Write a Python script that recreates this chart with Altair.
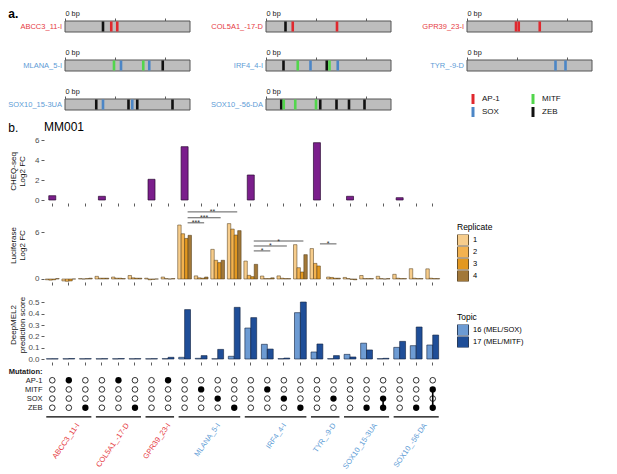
import altair as alt
import pandas as pd

FONT = "Liberation Sans"
RED = "#E63B3F"
BLUE = "#5D9CD6"

# ---------------- panel a : constructs and motif sites ----------------
constructs = ["ABCC3_11-I", "COL5A1_-17-D", "GPR39_23-I", "MLANA_5-I", "IRF4_4-I",
              "TYR_-9-D", "SOX10_15-3UA", "SOX10_-56-DA"]
construct_class = ["AP-1", "AP-1", "AP-1", "MEL", "MEL", "MEL", "MEL", "MEL"]

abcc3_pos = [152, 185, 209]
abcc3_motif = ["ZEB", "AP-1", "AP-1"]
col5a1_pos = [78, 107, 284]
col5a1_motif = ["ZEB", "AP-1", "AP-1"]
gpr39_pos = [196, 207, 291]
gpr39_motif = ["AP-1", "AP-1", "AP-1"]
mlana_pos = [196, 224, 313, 337, 391]
mlana_motif = ["MITF", "SOX", "MITF", "SOX", "ZEB"]
irf4_pos = [70, 127, 178, 243, 254, 287]
irf4_motif = ["ZEB", "MITF", "SOX", "ZEB", "MITF", "SOX"]
tyr_pos = [354, 394]
tyr_motif = ["SOX", "SOX"]
sox10a_pos = [125, 152, 254, 269, 289, 430]
sox10a_motif = ["ZEB", "SOX", "ZEB", "SOX", "ZEB", "ZEB"]
sox10b_pos = [61, 71, 117, 200, 217, 282, 332, 394]
sox10b_motif = ["ZEB", "MITF", "MITF", "MITF", "ZEB", "ZEB", "ZEB", "ZEB"]

motif_names = ["AP-1", "SOX", "MITF", "ZEB"]
motif_colors = ["#E0282E", "#4C86C6", "#52D64C", "#111111"]

# ---------------- panel b : 24 tested sequences ----------------
col_construct = (["ABCC3_11-I"] * 3 + ["COL5A1_-17-D"] * 3 + ["GPR39_23-I"] * 2 +
                 ["MLANA_5-I"] * 4 + ["IRF4_4-I"] * 4 + ["TYR_-9-D"] * 2 +
                 ["SOX10_15-3UA"] * 3 + ["SOX10_-56-DA"] * 3)
col_mutation = ["none", "AP-1", "ZEB", "none", "AP-1", "ZEB", "none", "AP-1",
                "none", "MITF", "SOX", "ZEB", "none", "MITF", "SOX", "ZEB",
                "none", "SOX", "none", "ZEB", "SOX+ZEB", "none", "ZEB", "MITF+ZEB"]

cheq_values = [0.43, None, None, 0.37, None, None, 2.07, None, 5.33, None, None, None,
               2.5, None, None, None, 5.73, None, 0.37, None, None, 0.23, None, None]

luc_rep1 = [-0.1, -0.25, 0.05, 0.34, 0.25, 0.45, 0.1, 0.25, 6.92, 0.4, 3.8, 7.1,
            2.3, 0.38, 0.4, 4.4, 3.9, 0.25, 0.2, 0.45, 0.35, 0.6, 1.32, 1.3]
luc_rep2 = [-0.15, -0.3, 0.0, 0.1, 0.1, 0.15, -0.1, 0.05, 5.8, 0.15, 2.4, 6.4,
            0.47, 0.05, 0.1, 1.45, 2.0, 0.2, 0.05, 0.05, 0.05, 0.1, 0.1, 0.1]
luc_rep3 = [-0.1, -0.25, 0.05, 0.1, 0.1, 0.1, -0.05, 0.0, 5.2, 0.1, 2.1, 5.64,
            0.3, 0.05, 0.05, 0.9, 1.67, 0.1, -0.05, 0.05, 0.0, 0.05, 0.05, 0.05]
luc_rep4 = [0.05, 0.0, 0.1, 0.1, 0.05, 0.1, 0.0, 0.05, 5.6, 0.25, 2.4, 6.2,
            1.88, 0.15, 0.05, 3.12, None, 0.1, -0.1, 0.05, 0.05, 0.05, 0.05, 0.05]
replicates = ["1", "2", "3", "4"]
rep_colors = ["#F7CD8C", "#F3B24F", "#E39820", "#A27838"]

sig_from = [9, 9, 9, 13, 13, 13, 17]
sig_to = [10, 11, 12, 14, 15, 16, 18]
sig_y = [7.2, 7.85, 8.6, 3.6, 4.23, 4.87, 4.5]
sig_label = ["***", "***", "**", "*", "*", "*", "*"]

deep_topic16 = [0.002, 0.002, 0.002, 0.002, 0.002, 0.002, 0.002, 0.003,
                0.015, 0.006, 0.002, 0.024, 0.274, 0.13, 0.003, 0.41,
                0.062, 0.003, 0.041, 0.14, 0.003, 0.103, 0.118, 0.124]
deep_topic17 = [0.002, 0.004, 0.003, 0.003, 0.004, 0.003, 0.003, 0.015,
                0.437, 0.03, 0.085, 0.457, 0.366, 0.088, 0.008, 0.504,
                0.133, 0.03, 0.018, 0.08, 0.006, 0.156, 0.283, 0.212]
topics = ["16 (MEL/SOX)", "17 (MEL/MITF)"]
topic_colors = ["#6D9BD3", "#1F4E98"]

# ---------------- panel a charts ----------------
class_color = {"AP-1": RED, "MEL": BLUE}
site_lists = [(abcc3_pos, abcc3_motif), (col5a1_pos, col5a1_motif), (gpr39_pos, gpr39_motif),
              (mlana_pos, mlana_motif), (irf4_pos, irf4_motif), (tyr_pos, tyr_motif),
              (sox10a_pos, sox10a_motif), (sox10b_pos, sox10b_motif)]
motif_scale = alt.Scale(domain=motif_names, range=motif_colors)
BAR_W = 125                 # pixels for the 500 bp sequence
LABEL_ROOM = [21, 62, 62]   # pixels left of 0 bp inside each grid column


def construct_chart(name, cls, pos, mot, room):
    bar_df = pd.DataFrame({"construct": [name], "start": [0], "end": [500]})
    site_df = pd.DataFrame({"construct": [name] * len(pos), "pos": pos, "motif": mot})
    lo = -room * 500.0 / BAR_W
    y_enc = alt.Y("construct:N", scale=alt.Scale(paddingInner=0, paddingOuter=0), axis=None)
    x_axis = alt.Axis(orient="top", values=[0, 100, 200, 300, 400, 500],
                      labelExpr="datum.value == 0 ? '0 bp' : (datum.value == 500 ? '500 bp' : '')",
                      labelAlign="left", labelFlush=False, labelOverlap=False, labelFontSize=7.3,
                      labelColor="#222222", labelPadding=1, tickSize=3, tickColor="#333333",
                      tickWidth=0.8, domain=False, grid=False, title=None)
    bar = alt.Chart(bar_df).mark_bar(color="#BDBDBD", stroke="#555555", strokeWidth=1).encode(
        x=alt.X("start:Q", scale=alt.Scale(domain=[lo, 500], nice=False, zero=False), axis=x_axis),
        x2="end:Q", y=y_enc)
    sites = alt.Chart(site_df).mark_tick(thickness=2.6, size=10, opacity=1).encode(
        x="pos:Q", y="construct:N",
        color=alt.Color("motif:N", scale=motif_scale, legend=None))
    label = alt.Chart(bar_df).mark_text(align="right", baseline="middle", dx=-3, fontSize=7.5,
                                        color=class_color[cls]).encode(
        x="start:Q", y="construct:N", text="construct:N")
    return alt.layer(bar, sites, label).properties(width=BAR_W + room, height=11)


a_charts = [construct_chart(n, c, p, m, LABEL_ROOM[k % 3])
            for k, (n, c, (p, m)) in enumerate(zip(constructs, construct_class, site_lists))]

legend_df = pd.DataFrame({"motif": motif_names})
motif_legend = alt.Chart(legend_df).mark_square(opacity=0).encode(
    color=alt.Color("motif:N", scale=motif_scale,
                    legend=alt.Legend(title=None, orient="none", legendX=LABEL_ROOM[2] + 1, legendY=-5,
                                      columns=2, columnPadding=28, rowPadding=3,
                                      symbolType="M-0.3,-1L0.3,-1L0.3,1L-0.3,1Z", symbolSize=100,
                                      symbolOpacity=1, symbolStrokeWidth=0, labelFontSize=8,
                                      labelColor="#111111"))
).properties(width=BAR_W + LABEL_ROOM[2], height=11)

panel_a = alt.concat(
    *a_charts, motif_legend, columns=3, spacing={"row": 15, "column": 13},
    title=alt.TitleParams("a.", anchor="start", fontSize=12, fontWeight="bold", offset=-12)
).resolve_scale(x="independent", y="independent", color="independent")

# ---------------- panel b charts ----------------
cids = [f"c{i + 1:02d}" for i in range(24)]
PW = 397
x_band = alt.X("cid:N", scale=alt.Scale(domain=cids, paddingInner=0, paddingOuter=0),
               axis=alt.Axis(title=None, labels=False, domain=False, tickSize=3, tickColor="#333333",
                             tickWidth=0.8, grid=False))
q_scale = alt.Scale(domain=[0.5, 24.5], nice=False, zero=False)


def y_axis(title, values, fmt):
    return alt.Axis(title=title, values=values, format=fmt, grid=False, domain=False, tickSize=3,
                    tickColor="#333333", tickWidth=0.8, labelFontSize=8, labelColor="#4D4D4D",
                    labelPadding=2, minExtent=16, maxExtent=16, titleFontSize=8,
                    titleFontWeight="normal", titlePadding=2, titleColor="#111111", titleLineHeight=9)


cheq_df = pd.DataFrame({"cid": cids, "val": cheq_values})
cheq = alt.Chart(cheq_df).mark_bar(color="#7B1E8C", stroke="#2A0A30", strokeWidth=0.7, width=7).encode(
    x=x_band,
    y=alt.Y("val:Q", scale=alt.Scale(domain=[-0.3, 6.1], nice=False, zero=False),
            axis=y_axis(["CHEQ-seq", "Log2 FC"], [0, 2, 4, 6], "d")),
    y2=alt.datum(0)
).properties(width=PW, height=64,
             title=alt.TitleParams("MM001", anchor="start", frame="group", fontSize=12,
                                   fontWeight="normal", offset=2))

luc_rows = []
for i, cid in enumerate(cids):
    for r, vals in zip(replicates, [luc_rep1, luc_rep2, luc_rep3, luc_rep4]):
        luc_rows.append({"cid": cid, "rep": r, "val": vals[i]})
luc_df = pd.DataFrame(luc_rows)
luc_y = alt.Y("val:Q", scale=alt.Scale(domain=[-0.385, 9.1], nice=False, zero=False),
              axis=y_axis(["Luciferase", "Log2 FC"], [0, 2, 4, 6], "d"))
luc_bars = alt.Chart(luc_df).mark_bar(stroke="#4A3412", strokeWidth=0.5).encode(
    x=x_band,
    xOffset=alt.XOffset("rep:N", scale=alt.Scale(domain=replicates, paddingOuter=0.4, paddingInner=0)),
    y=luc_y, y2=alt.datum(0),
    color=alt.Color("rep:N", scale=alt.Scale(domain=replicates, range=rep_colors),
                    legend=alt.Legend(title="Replicate", orient="none", legendX=413, legendY=15,
                                      symbolType="square", symbolSize=121, symbolStrokeColor="#4A3412",
                                      symbolStrokeWidth=0.8, rowPadding=1, clipHeight=11,
                                      labelFontSize=7.5, titleFontSize=8.5, titleFontWeight="normal",
                                      titlePadding=3)))
sig_df = pd.DataFrame({"x1": sig_from, "x2": sig_to, "y": sig_y, "lab": sig_label})
sig_rules = alt.Chart(sig_df).mark_rule(color="#333333", strokeWidth=0.8, xOffset=3, x2Offset=3).encode(
    x=alt.X("x1:Q", scale=q_scale, axis=None), x2="x2:Q", y="y:Q")
sig_text = alt.Chart(sig_df).transform_calculate(xm="(datum.x1 + datum.x2) / 2").mark_text(
    fontSize=7, baseline="alphabetic", dy=2.5, xOffset=3, color="#333333").encode(
    x=alt.X("xm:Q", scale=q_scale, axis=None), y="y:Q", text="lab:N")
luc = alt.layer(luc_bars, sig_rules, sig_text).resolve_scale(x="independent").properties(width=PW, height=74)

deep_rows = []
for i, cid in enumerate(cids):
    for t, vals in zip(topics, [deep_topic16, deep_topic17]):
        deep_rows.append({"cid": cid, "topic": t, "val": vals[i]})
deep_df = pd.DataFrame(deep_rows)
deep = alt.Chart(deep_df).mark_bar(stroke="#0D1F3C", strokeWidth=0.6).encode(
    x=x_band,
    xOffset=alt.XOffset("topic:N", scale=alt.Scale(domain=topics, paddingOuter=0.4, paddingInner=0)),
    y=alt.Y("val:Q", scale=alt.Scale(domain=[-0.0265, 0.637], nice=False, zero=False),
            axis=y_axis(["DeepMEL2", "prediction score"], [0, 0.1, 0.2, 0.3, 0.4, 0.5], ".1f")),
    y2=alt.datum(0),
    color=alt.Color("topic:N", scale=alt.Scale(domain=topics, range=topic_colors),
                    legend=alt.Legend(title="Topic", orient="none", legendX=413, legendY=26,
                                      symbolType="square", symbolSize=121, symbolStrokeColor="#0D1F3C",
                                      symbolStrokeWidth=0.8, rowPadding=1, clipHeight=11,
                                      labelFontSize=7.5, titleFontSize=8.5, titleFontWeight="normal",
                                      titlePadding=3))
).properties(width=PW, height=75)

# mutation matrix
motif_rows = ["AP-1", "MITF", "SOX", "ZEB"]
row_domain = ["Mutation:"] + motif_rows + ["_line"]
mat_rows, link_rows = [], []
for i, m in enumerate(col_mutation):
    muts = [] if m == "none" else m.split("+")
    for r in motif_rows:
        mat_rows.append({"idx": i + 1, "row": r, "mut": r in muts})
    if len(muts) > 1:
        ordered = [r for r in motif_rows if r in muts]
        link_rows.append({"idx": i + 1, "row": ordered[0], "r2": ordered[-1]})
mat_df = pd.DataFrame(mat_rows)
link_df = pd.DataFrame(link_rows)

grp_rows = []
for name, cls in zip(constructs, construct_class):
    idxs = [i + 1 for i, c in enumerate(col_construct) if c == name]
    grp_rows.append({"name": name, "cls": cls, "start": min(idxs), "end": max(idxs), "row": "_line"})
grp_df = pd.DataFrame(grp_rows)

y_mat = alt.Y("row:N", scale=alt.Scale(type="point", domain=row_domain, padding=0.45),
              axis=alt.Axis(title=None, ticks=False, domain=False, labelPadding=2, labelFontSize=7.5,
                            labelColor="#1A1A1A",
                            labelExpr="datum.value == '_line' ? '' : datum.value",
                            labelFontWeight={"condition": {"test": "datum.value == 'Mutation:'",
                                                           "value": "bold"}, "value": "normal"}))
x_mat = alt.X("idx:Q", scale=q_scale, axis=None)

links = alt.Chart(link_df).mark_rule(color="black", strokeWidth=1.6).encode(
    x=x_mat, y=y_mat, y2="r2:N")
open_pts = alt.Chart(mat_df).transform_filter("!datum.mut").mark_point(
    shape="circle", filled=False, color="black", size=32, strokeWidth=0.8, opacity=1).encode(x=x_mat, y=y_mat)
filled_pts = alt.Chart(mat_df).transform_filter("datum.mut").mark_point(
    shape="circle", filled=True, color="black", size=40, opacity=1).encode(x=x_mat, y=y_mat)
grp_rule = alt.Chart(grp_df).mark_rule(color="black", strokeWidth=1.3, xOffset=-6, x2Offset=6).encode(
    x=alt.X("start:Q", scale=q_scale, axis=None), x2="end:Q", y=y_mat)
grp_text = alt.Chart(grp_df).transform_calculate(center="(datum.start + datum.end) / 2").mark_text(
    angle=305, align="right", baseline="top", fontSize=7.5, xOffset=6, yOffset=5).encode(
    x=alt.X("center:Q", scale=q_scale, axis=None), y=y_mat, text="name:N",
    color=alt.Color("cls:N", scale=alt.Scale(domain=["AP-1", "MEL"], range=[RED, BLUE]), legend=None))
matrix = alt.layer(links, open_pts, filled_pts, grp_rule, grp_text).properties(width=PW, height=54)

panel_b = alt.vconcat(
    cheq, luc, deep, matrix, spacing=1,
    title=alt.TitleParams("b.", anchor="start", fontSize=12, fontWeight="normal", offset=-14)
).resolve_scale(x="independent", y="independent", color="independent", xOffset="independent")

chart = alt.vconcat(panel_a, panel_b, spacing=4).resolve_scale(
    x="independent", y="independent", color="independent", xOffset="independent"
).properties(padding=0).configure(font=FONT).configure_view(strokeWidth=0).configure_axis(grid=False)

chart.save("out.html", embed_options={"renderer": "svg", "actions": False})
